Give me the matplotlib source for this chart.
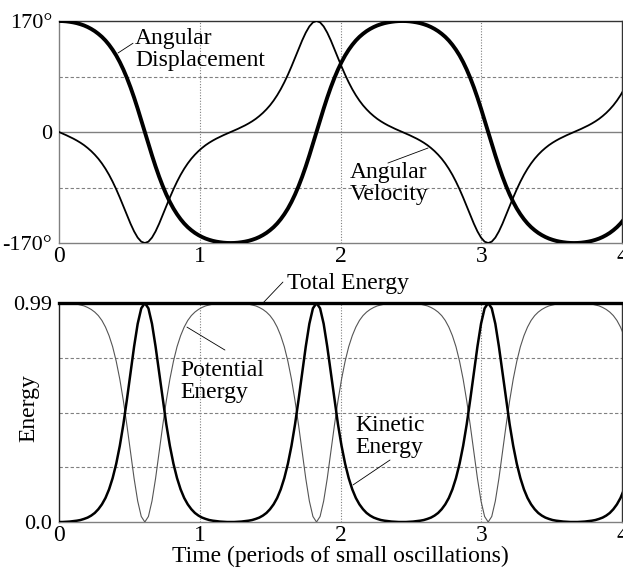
import numpy as np
import matplotlib.pyplot as plt

plt.rcParams['font.family'] = ['Liberation Serif', 'DejaVu Serif']

# sampling step of the curves (period of the 170 deg swing / 96)
dt = 0.02541

# angular displacement, degrees
displacement = [
    170.0, 169.9, 169.5, 168.8, 167.9, 166.7, 165.1, 163.2, 160.8, 157.9, 154.5, 150.4, 145.7,
    140.1, 133.5, 125.9, 117.2, 107.1, 95.6, 82.7, 68.4, 52.7, 35.8, 18.1, 0.0,
    -18.1, -35.8, -52.7, -68.4, -82.7, -95.6, -107.1, -117.2, -125.9, -133.5, -140.1, -145.7,
    -150.4, -154.5, -157.9, -160.8, -163.2, -165.1, -166.7, -167.9, -168.8, -169.5, -169.9, -170.0,
    -169.9, -169.5, -168.8, -167.9, -166.7, -165.1, -163.2, -160.8, -157.9, -154.5, -150.4, -145.7,
    -140.1, -133.5, -125.9, -117.2, -107.1, -95.6, -82.7, -68.4, -52.7, -35.8, -18.1, 0.0,
    18.1, 35.8, 52.7, 68.4, 82.7, 95.6, 107.1, 117.2, 125.9, 133.5, 140.1, 145.7,
    150.4, 154.5, 157.9, 160.8, 163.2, 165.1, 166.7, 167.9, 168.8, 169.5, 169.9, 170.0,
    169.9, 169.5, 168.8, 167.9, 166.7, 165.1, 163.2, 160.8, 157.9, 154.5, 150.4, 145.7,
    140.1, 133.5, 125.9, 117.2, 107.1, 95.6, 82.7, 68.4, 52.7, 35.8, 18.1, 0.0,
    -18.1, -35.8, -52.7, -68.4, -82.7, -95.6, -107.1, -117.2, -125.9, -133.5, -140.1, -145.7,
    -150.4, -154.5, -157.9, -160.8, -163.2, -165.1, -166.7, -167.9, -168.8, -169.5, -169.9, -170.0,
    -169.9, -169.5, -168.8, -167.9, -166.7, -165.1, -163.2, -160.8, -157.9, -154.5, -150.4, -145.7,
    -140.1, -133.5]

# angular velocity, scaled to the same axis
velocity = [
    0.0, -2.4, -4.8, -7.4, -10.1, -13.1, -16.4, -20.1, -24.4, -29.2, -34.7, -40.9, -48.1,
    -56.3, -65.6, -76.1, -87.7, -100.3, -113.6, -127.2, -140.4, -152.2, -161.7, -167.9, -170.0,
    -167.9, -161.7, -152.2, -140.4, -127.2, -113.6, -100.3, -87.7, -76.1, -65.6, -56.3, -48.1,
    -40.9, -34.7, -29.2, -24.4, -20.1, -16.4, -13.1, -10.1, -7.4, -4.8, -2.4, 0.0,
    2.4, 4.8, 7.4, 10.1, 13.1, 16.4, 20.1, 24.4, 29.2, 34.7, 40.9, 48.1,
    56.3, 65.6, 76.1, 87.7, 100.3, 113.6, 127.2, 140.4, 152.2, 161.7, 167.9, 170.0,
    167.9, 161.7, 152.2, 140.4, 127.2, 113.6, 100.3, 87.7, 76.1, 65.6, 56.3, 48.1,
    40.9, 34.7, 29.2, 24.4, 20.1, 16.4, 13.1, 10.1, 7.4, 4.8, 2.4, 0.0,
    -2.4, -4.8, -7.4, -10.1, -13.1, -16.4, -20.1, -24.4, -29.2, -34.7, -40.9, -48.1,
    -56.3, -65.6, -76.1, -87.7, -100.3, -113.6, -127.2, -140.4, -152.2, -161.7, -167.9, -170.0,
    -167.9, -161.7, -152.2, -140.4, -127.2, -113.6, -100.3, -87.7, -76.1, -65.6, -56.3, -48.1,
    -40.9, -34.7, -29.2, -24.4, -20.1, -16.4, -13.1, -10.1, -7.4, -4.8, -2.4, 0.0,
    2.4, 4.8, 7.4, 10.1, 13.1, 16.4, 20.1, 24.4, 29.2, 34.7, 40.9, 48.1,
    56.3, 65.6]

potential = [
    0.992, 0.992, 0.992, 0.991, 0.989, 0.987, 0.983, 0.979, 0.972, 0.963, 0.951, 0.935, 0.913,
    0.883, 0.844, 0.794, 0.728, 0.647, 0.549, 0.437, 0.316, 0.197, 0.095, 0.025, 0.000,
    0.025, 0.095, 0.197, 0.316, 0.437, 0.549, 0.647, 0.728, 0.794, 0.844, 0.883, 0.913,
    0.935, 0.951, 0.963, 0.972, 0.979, 0.983, 0.987, 0.989, 0.991, 0.992, 0.992, 0.992,
    0.992, 0.992, 0.991, 0.989, 0.987, 0.983, 0.979, 0.972, 0.963, 0.951, 0.935, 0.913,
    0.883, 0.844, 0.794, 0.728, 0.647, 0.549, 0.437, 0.316, 0.197, 0.095, 0.025, 0.000,
    0.025, 0.095, 0.197, 0.316, 0.437, 0.549, 0.647, 0.728, 0.794, 0.844, 0.883, 0.913,
    0.935, 0.951, 0.963, 0.972, 0.979, 0.983, 0.987, 0.989, 0.991, 0.992, 0.992, 0.992,
    0.992, 0.992, 0.991, 0.989, 0.987, 0.983, 0.979, 0.972, 0.963, 0.951, 0.935, 0.913,
    0.883, 0.844, 0.794, 0.728, 0.647, 0.549, 0.437, 0.316, 0.197, 0.095, 0.025, 0.000,
    0.025, 0.095, 0.197, 0.316, 0.437, 0.549, 0.647, 0.728, 0.794, 0.844, 0.883, 0.913,
    0.935, 0.951, 0.963, 0.972, 0.979, 0.983, 0.987, 0.989, 0.991, 0.992, 0.992, 0.992,
    0.992, 0.992, 0.991, 0.989, 0.987, 0.983, 0.979, 0.972, 0.963, 0.951, 0.935, 0.913,
    0.883, 0.844]

kinetic = [
    0.000, 0.000, 0.001, 0.002, 0.004, 0.006, 0.009, 0.014, 0.020, 0.029, 0.041, 0.058, 0.080,
    0.109, 0.148, 0.199, 0.264, 0.345, 0.443, 0.556, 0.677, 0.795, 0.898, 0.968, 0.992,
    0.968, 0.898, 0.795, 0.677, 0.556, 0.443, 0.345, 0.264, 0.199, 0.148, 0.109, 0.080,
    0.058, 0.041, 0.029, 0.020, 0.014, 0.009, 0.006, 0.004, 0.002, 0.001, 0.000, 0.000,
    0.000, 0.001, 0.002, 0.004, 0.006, 0.009, 0.014, 0.020, 0.029, 0.041, 0.058, 0.080,
    0.109, 0.148, 0.199, 0.264, 0.345, 0.443, 0.556, 0.677, 0.795, 0.898, 0.968, 0.992,
    0.968, 0.898, 0.795, 0.677, 0.556, 0.443, 0.345, 0.264, 0.199, 0.148, 0.109, 0.080,
    0.058, 0.041, 0.029, 0.020, 0.014, 0.009, 0.006, 0.004, 0.002, 0.001, 0.000, 0.000,
    0.000, 0.001, 0.002, 0.004, 0.006, 0.009, 0.014, 0.020, 0.029, 0.041, 0.058, 0.080,
    0.109, 0.148, 0.199, 0.264, 0.345, 0.443, 0.556, 0.677, 0.795, 0.898, 0.968, 0.992,
    0.968, 0.898, 0.795, 0.677, 0.556, 0.443, 0.345, 0.264, 0.199, 0.148, 0.109, 0.080,
    0.058, 0.041, 0.029, 0.020, 0.014, 0.009, 0.006, 0.004, 0.002, 0.001, 0.000, 0.000,
    0.000, 0.001, 0.002, 0.004, 0.006, 0.009, 0.014, 0.020, 0.029, 0.041, 0.058, 0.080,
    0.109, 0.148]

total_energy = 0.992

t = np.arange(len(displacement)) * dt

grid_col = '#808080'
fs = 17
leader = dict(arrowstyle='-', lw=0.6, color='black', shrinkA=0, shrinkB=0)

fig = plt.figure(figsize=(6.23, 5.71), dpi=100)
ax1 = fig.add_axes([0.0947, 0.5744, 0.9037, 0.3888])
ax2 = fig.add_axes([0.0947, 0.0858, 0.9037, 0.3835])

# ---- top: angle and angular velocity
ax1.axhline(0, color=grid_col, lw=1.0, zorder=1)
for y in (-85, 85):
    ax1.axhline(y, color=grid_col, lw=0.8, ls=(0, (3, 2)), zorder=1)
for x in (1, 2, 3):
    ax1.axvline(x, color=grid_col, lw=0.8, ls=(0, (1, 1.5)), zorder=1)
ax1.plot(t, displacement, color='black', lw=2.8, zorder=3)
ax1.plot(t, velocity, color='black', lw=1.3, zorder=3)
ax1.set_xlim(0, 4)
ax1.set_ylim(-170, 170)
ax1.set_yticks([-170, 0, 170])
ax1.set_yticklabels(['-170°', '0', '170°'])

ax1.text(0.54, 101, 'Angular\nDisplacement', ha='left', va='baseline', fontsize=fs, linespacing=1.05)
ax1.annotate('', xy=(0.419, 121), xytext=(0.526, 136), arrowprops=leader)
ax1.text(2.067, -104, 'Angular\nVelocity', ha='left', va='baseline', fontsize=fs, linespacing=1.05)
ax1.annotate('', xy=(2.622, -24.5), xytext=(2.337, -47.5), arrowprops=leader)

# ---- bottom: energies
for y in (0.248, 0.496, 0.744):
    ax2.axhline(y, color=grid_col, lw=0.8, ls=(0, (3, 2)), zorder=1)
for x in (1, 2, 3):
    ax2.axvline(x, color=grid_col, lw=0.8, ls=(0, (1, 1.5)), zorder=1)
ax2.plot(t, potential, color='#555555', lw=0.8, zorder=3)
ax2.plot(t, kinetic, color='black', lw=1.8, zorder=3)
ax2.axhline(total_energy, color='black', lw=2.4, zorder=4, clip_on=False)
ax2.set_xlim(0, 4)
ax2.set_ylim(0, 0.992)
ax2.set_yticks([0, 0.992])
ax2.set_yticklabels(['0.0', '0.99'])
ax2.set_ylabel('Energy', fontsize=fs)
ax2.yaxis.set_label_coords(-0.035, 0.52)
ax2.set_xlabel('Time (periods of small oscillations)', fontsize=fs, labelpad=0)

ax2.text(1.62, 1.055, 'Total Energy', ha='left', va='baseline', fontsize=fs)
ax2.annotate('', xy=(1.449, 0.992), xytext=(1.591, 1.087), annotation_clip=False, arrowprops=leader)
ax2.text(0.86, 0.562, 'Potential\nEnergy', ha='left', va='baseline', fontsize=fs, linespacing=1.05)
ax2.annotate('', xy=(0.909, 0.883), xytext=(1.179, 0.779), arrowprops=leader)
ax2.text(2.103, 0.3125, 'Kinetic\nEnergy', ha='left', va='baseline', fontsize=fs, linespacing=1.05)
ax2.annotate('', xy=(2.089, 0.168), xytext=(2.352, 0.281), arrowprops=leader)

for ax in (ax1, ax2):
    ax.set_xticks([0, 1, 2, 3, 4])
    ax.tick_params(axis='x', length=0, pad=2, labelsize=fs)
    ax.tick_params(axis='y', length=0, pad=5, labelsize=fs - 1)
    ax.spines['left'].set_color(grid_col)
    ax.spines['bottom'].set_color(grid_col)
    ax.spines['top'].set_color('#333333')
    ax.spines['right'].set_color('#333333')
    for s in ax.spines.values():
        s.set_linewidth(1.0)
ax2.spines['left'].set_color('#222222')

fig.savefig('out.png', dpi=100)
